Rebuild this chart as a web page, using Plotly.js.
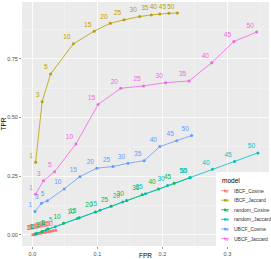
<!DOCTYPE html>
<html><head><meta charset="utf-8">
<script src="https://cdn.plot.ly/plotly-3.0.1.min.js"></script>
<style>html,body{margin:0;padding:0;background:#fff}</style>
</head><body><div id="chart" style="width:271px;height:259px"></div>
<script>
const nLabels = [1,3,5,10,15,20,25,30,35,40,45,50];
const models = ["IBCF_Cosine","IBCF_Jaccard","random_Cosine","random_Jaccard","UBCF_Cosine","UBCF_Jaccard"];
const colors = ["#F8766D","#B79F00","#00BA38","#00BFC4","#619CFF","#F564E3"];

const ibcfCosFPR = [0.0007,0.002,0.0035,0.007,0.011,0.014,0.018,0.021,0.025,0.028,0.032,0.036];
const ibcfCosTPR = [0.0004,0.0012,0.002,0.004,0.006,0.008,0.010,0.012,0.014,0.016,0.018,0.020];

const ibcfJacFPR = [0.005,0.015,0.028,0.063,0.095,0.120,0.141,0.165,0.183,0.196,0.210,0.223];
const ibcfJacTPR = [0.309,0.567,0.685,0.813,0.867,0.901,0.915,0.929,0.936,0.940,0.943,0.944];

const randCosFPR = [0.005,0.015,0.024,0.048,0.072,0.097,0.121,0.145,0.169,0.194,0.218,0.242];
const randCosTPR = [0.005,0.015,0.025,0.050,0.073,0.098,0.122,0.147,0.171,0.196,0.220,0.243];

const randJacFPR = [0.007,0.021,0.035,0.069,0.104,0.139,0.174,0.208,0.243,0.277,0.311,0.347];
const randJacTPR = [0.007,0.021,0.035,0.070,0.105,0.140,0.175,0.210,0.244,0.280,0.313,0.349];

const ubcfCosFPR = [0.004,0.014,0.023,0.049,0.073,0.099,0.124,0.147,0.172,0.196,0.222,0.245];
const ubcfCosTPR = [0.100,0.135,0.145,0.196,0.248,0.284,0.291,0.305,0.316,0.376,0.401,0.423];

const ubcfJacFPR = [0.005,0.017,0.034,0.067,0.101,0.136,0.171,0.205,0.241,0.276,0.310,0.345];
const ubcfJacTPR = [0.173,0.231,0.269,0.387,0.555,0.624,0.634,0.648,0.655,0.733,0.823,0.863];

const xs = [ibcfCosFPR,ibcfJacFPR,randCosFPR,randJacFPR,ubcfCosFPR,ubcfJacFPR];
const ys = [ibcfCosTPR,ibcfJacTPR,randCosTPR,randJacTPR,ubcfCosTPR,ubcfJacTPR];

const FONT = 'Liberation Sans, Arial, sans-serif';
const traces = models.map((m,i)=>({
  type:'scatter', mode:'lines+markers+text', name:m, showlegend:false,
  x:xs[i], y:ys[i], text:nLabels.map(String),
  textposition:'top left',
  textfont:{size:6.5, color:colors[i], family:FONT},
  line:{color:colors[i], width:0.8},
  marker:{color:colors[i], size:3},
  cliponaxis:false
}));

// plot area in pixels: left 22, right 269, top 2, bottom 246
const M = {l:22, r:2, t:2, b:13};
const PW = 271 - M.l - M.r, PH = 259 - M.t - M.b;
const px = x => (x - M.l) / PW;
const py = y => (259 - M.b - y) / PH;

// custom legend (ggplot-like compact)
const shapes = [{type:'rect', xref:'paper', yref:'paper', x0:px(216), x1:px(272), y0:py(246), y1:py(172),
  fillcolor:'#FFFFFF', line:{width:0}, layer:'above'}];
const annotations = [{xref:'paper', yref:'paper', x:px(220), y:py(180), xanchor:'left', yanchor:'middle',
  text:'model', showarrow:false, font:{size:6.5, color:'#000', family:FONT}},
  {xref:'paper', yref:'paper', x:0.5, y:py(256), xanchor:'center', yanchor:'middle',
  text:'FPR', showarrow:false, font:{size:6.5, color:'#000', family:FONT}}];
const itemY = [190.7,200.2,209.8,219.4,229,238.6];
models.forEach((m,i)=>{
  const yy = itemY[i];
  shapes.push({type:'line', xref:'paper', yref:'paper', x0:px(221), x1:px(229), y0:py(yy), y1:py(yy),
    line:{color:colors[i], width:0.8}, layer:'above'});
  shapes.push({type:'circle', xref:'paper', yref:'paper', x0:px(223.8), x1:px(226.2), y0:py(yy+1.2), y1:py(yy-1.2),
    fillcolor:colors[i], line:{width:0}, layer:'above'});
  annotations.push({xref:'paper', yref:'paper', x:px(222.5), y:py(yy), xanchor:'left', yanchor:'middle',
    text:'a', showarrow:false, font:{size:5.5, color:colors[i], family:FONT}, opacity:0.8});
  annotations.push({xref:'paper', yref:'paper', x:px(231.5), y:py(yy), xanchor:'left', yanchor:'middle',
    text:m, showarrow:false, font:{size:5, color:'#333', family:FONT}});
});

const layout = {
  width:271, height:259,
  margin:M,
  paper_bgcolor:'#FFFFFF', plot_bgcolor:'#EBEBEB',
  font:{family:FONT, size:6, color:'#4D4D4D'},
  showlegend:false,
  xaxis:{range:[-0.016,0.364], tickvals:[0,0.1,0.2,0.3], ticktext:['0.0','0.1','0.2','0.3'],
    showgrid:true, gridcolor:'#FFFFFF', gridwidth:0.8, zeroline:false,
    minor:{tickvals:[0.05,0.15,0.25,0.35], showgrid:true, gridcolor:'#F5F5F5', gridwidth:0.5, ticks:''},
    ticks:'outside', ticklen:2, tickcolor:'#333333', tickwidth:0.5,
    tickfont:{size:5.5, color:'#4D4D4D'}, automargin:false},
  yaxis:{range:[-0.047,0.991], tickvals:[0,0.25,0.5,0.75], ticktext:['0.00','0.25','0.50','0.75'],
    showgrid:true, gridcolor:'#FFFFFF', gridwidth:0.8, zeroline:false,
    minor:{tickvals:[0.125,0.375,0.625,0.875], showgrid:true, gridcolor:'#F5F5F5', gridwidth:0.5, ticks:''},
    ticks:'outside', ticklen:2, tickcolor:'#333333', tickwidth:0.5,
    tickfont:{size:5.5, color:'#4D4D4D'}, automargin:false,
    title:{text:'TPR', font:{size:6.5, color:'#000'}, standoff:2}},
  shapes:shapes, annotations:annotations
};
Plotly.newPlot('chart', traces, layout, {displayModeBar:false, staticPlot:true});
</script></body></html>
